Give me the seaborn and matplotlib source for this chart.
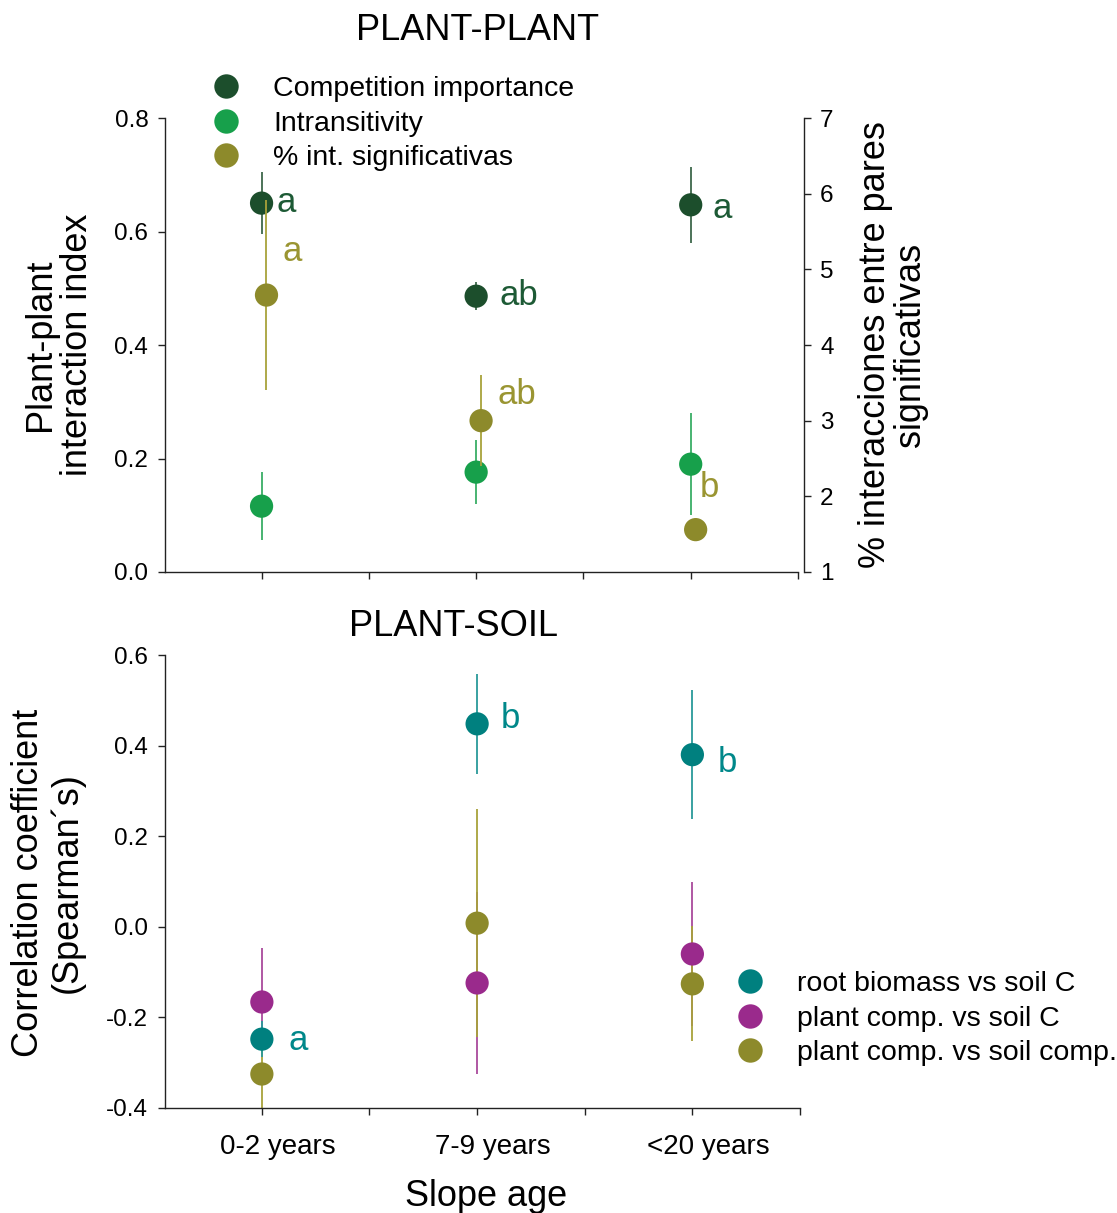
import numpy as np
import pandas as pd
import seaborn as sns
import matplotlib.pyplot as plt

sns.set_style("ticks")
plt.rcParams['font.family'] = ['Liberation Sans', 'DejaVu Sans']
plt.rcParams['text.color'] = 'black'

ages = ["0-2 years", "7-9 years", "<20 years"]
age_pos = [1, 2, 3]

# PLANT-PLANT (left axis: index, right axis: % significant interactions)
comp_imp = [0.650, 0.486, 0.647]
comp_imp_err = [0.055, 0.025, 0.067]
intrans = [0.116, 0.176, 0.190]
intrans_err = [0.060, 0.057, 0.090]
pct_sig = [4.66, 3.00, 1.56]
pct_sig_err = [1.25, 0.60, 0.0]
comp_letters = ["a", "ab", "a"]
pct_letters = ["a", "ab", "b"]

# PLANT-SOIL (Spearman correlations)
root_c = [-0.248, 0.448, 0.380]
root_c_err = [0.04, 0.11, 0.142]
comp_c = [-0.166, -0.124, -0.060]
comp_c_err = [0.12, 0.20, 0.16]
comp_comp = [-0.325, 0.008, -0.126]
comp_comp_err = [0.10, 0.252, 0.127]
root_letters = ["a", "b", "b"]

top_yticks = [0.0, 0.2, 0.4, 0.6, 0.8]
right_yticks = [1, 2, 3, 4, 5, 6, 7]
bot_yticks = [-0.4, -0.2, 0.0, 0.2, 0.4, 0.6]

labels_pp = ["Competition importance", "Intransitivity", "% int. significativas"]
labels_ps = ["root biomass vs soil C", "plant comp. vs soil C", "plant comp. vs soil comp."]
colors_pp = ["#1c4e2c", "#17a04b", "#8d8a2b"]
colors_ps = ["#00807f", "#9a2a8c", "#8d8a2b"]

W, H = 1117, 1213
fig = plt.figure(figsize=(W / 100, H / 100), dpi=100)
ax = fig.add_axes([165 / W, 1 - 572 / H, (798 - 165) / W, (572 - 118) / H])
ax2 = ax.twinx()
axb = fig.add_axes([165 / W, 1 - 1108 / H, (800 - 165) / W, (1108 - 655) / H])

dodge = 0.023
lbl_shift = 0.075
ms = 280
tick_fs = 17.5
lab_fs = 26
leg_fs = 20.5
let_fs = 25

# ---- top panel ----
top_df = pd.DataFrame({
    "age": age_pos * 2,
    "value": comp_imp + intrans,
    "series": [labels_pp[0]] * 3 + [labels_pp[1]] * 3,
})
right_df = pd.DataFrame({
    "age": [p + dodge for p in age_pos],
    "value": pct_sig,
    "series": [labels_pp[2]] * 3,
})

ax.errorbar(age_pos, comp_imp, yerr=comp_imp_err, fmt="none", ecolor=colors_pp[0],
            elinewidth=1.3, alpha=0.85, zorder=1)
ax.errorbar(age_pos, intrans, yerr=intrans_err, fmt="none", ecolor=colors_pp[1],
            elinewidth=1.3, alpha=0.85, zorder=1)
sns.scatterplot(data=top_df, x="age", y="value", hue="series",
                palette=dict(zip(labels_pp[:2], colors_pp[:2])),
                s=ms, linewidth=0, alpha=1, ax=ax, zorder=2)
ax2.errorbar(right_df["age"], pct_sig, yerr=pct_sig_err, fmt="none", ecolor="#a8a23a",
             elinewidth=1.3, zorder=1)
sns.scatterplot(data=right_df, x="age", y="value", hue="series",
                palette={labels_pp[2]: colors_pp[2]},
                s=ms, linewidth=0, alpha=1, ax=ax2, zorder=2)

h1 = ax.get_legend().legend_handles
h2 = ax2.get_legend().legend_handles
ax.get_legend().remove()
ax2.get_legend().remove()

offs_comp = [(15, -9), (23, -9), (22, -13)]
offs_pct = [(16, 34), (16, 17), (4, 33)]
for i in range(3):
    ax.annotate(comp_letters[i], (age_pos[i], comp_imp[i]), xytext=offs_comp[i],
                textcoords="offset pixels", ha="left", va="baseline",
                fontsize=let_fs, color="#1d5a35")
    ax2.annotate(pct_letters[i], (age_pos[i] + dodge, pct_sig[i]), xytext=offs_pct[i],
                 textcoords="offset pixels", ha="left", va="baseline",
                 fontsize=let_fs, color="#9a9532")

ax.set_xlim(0.55, 3.5)
ax.set_ylim(0, 0.8)
ax2.set_ylim(1, 7)
ax.set_xticks([1, 1.5, 2, 2.5, 3, 3.5], labels=[""] * 6)
ax.set_yticks(top_yticks, labels=[f"{v:.1f}" for v in top_yticks])
ax2.set_yticks(right_yticks, labels=[str(v) for v in right_yticks])
ax.set_xlabel("")
ax.set_ylabel("")
ax2.set_ylabel("")
sns.despine(ax=ax)
sns.despine(ax=ax2, left=True, bottom=True, right=False)
ax2.spines["right"].set_position(("outward", 4))

ax2.legend(list(h1) + list(h2), labels_pp, loc="upper left",
           bbox_to_anchor=(212 / W, 1 - 76 / H), bbox_transform=fig.transFigure,
           frameon=False, fontsize=leg_fs, handlelength=1.0, handletextpad=1.15,
           labelspacing=0.3, borderpad=0, borderaxespad=0, markerscale=1.05)

# ---- bottom panel ----
bot_df = pd.DataFrame({
    "age": age_pos * 3,
    "value": root_c + comp_c + comp_comp,
    "series": [labels_ps[0]] * 3 + [labels_ps[1]] * 3 + [labels_ps[2]] * 3,
})
for vals, errs, c in [(comp_c, comp_c_err, "#a94a9c"),
                      (comp_comp, comp_comp_err, "#a8a23a"),
                      (root_c, root_c_err, "#2a9a9a")]:
    axb.errorbar(age_pos, vals, yerr=errs, fmt="none", ecolor=c, elinewidth=1.3, zorder=1)
sns.scatterplot(data=bot_df, x="age", y="value", hue="series",
                palette=dict(zip(labels_ps, colors_ps)),
                s=ms, linewidth=0, alpha=1, ax=axb, zorder=2)
hb = axb.get_legend().legend_handles
axb.get_legend().remove()

offs_root = [(27, -11), (24, -4), (25, -17)]
for i in range(3):
    axb.annotate(root_letters[i], (age_pos[i], root_c[i]), xytext=offs_root[i],
                 textcoords="offset pixels", ha="left", va="baseline",
                 fontsize=let_fs, color="#00888a")

axb.set_xlim(0.55, 3.5)
axb.set_ylim(-0.4, 0.6)
axb.set_xticks([1, 1.5, 2, 2.5, 3, 3.5], labels=[""] * 6)
# category names sit slightly right of their tick, as in the original
axb.set_xticks([p + lbl_shift for p in age_pos], labels=ages, minor=True)
axb.set_yticks(bot_yticks, labels=[f"{v:.1f}" for v in bot_yticks])
axb.set_xlabel("")
axb.set_ylabel("")
sns.despine(ax=axb)

axb.legend(hb, labels_ps, loc="upper left",
           bbox_to_anchor=(736 / W, 1 - 971 / H), bbox_transform=fig.transFigure,
           frameon=False, fontsize=leg_fs, handlelength=1.0, handletextpad=1.15,
           labelspacing=0.3, borderpad=0, borderaxespad=0, markerscale=1.05)

for a in (ax, ax2, axb):
    a.tick_params(which="both", direction="out", length=5, width=1, colors="#222222",
                  labelcolor="black", labelsize=tick_fs, pad=7)
    for sp in a.spines.values():
        sp.set_linewidth(1)
        sp.set_color("#222222")
axb.tick_params(axis="x", which="minor", length=0, labelsize=20, pad=19)

# titles and axis labels
fig.text(478 / W, 1 - 31 / H, "PLANT-PLANT", ha="center", va="center", fontsize=lab_fs)
fig.text(453 / W, 1 - 626 / H, "PLANT-SOIL", ha="center", va="center", fontsize=lab_fs)
fig.text(59 / W, 1 - 345 / H, "Plant-plant\ninteraction index", rotation=90,
         ha="center", va="center", fontsize=lab_fs, linespacing=1.05, multialignment="center")
fig.text(893 / W, 1 - 345 / H, "% interacciones entre pares\nsignificativas", rotation=90,
         ha="center", va="center", fontsize=lab_fs, linespacing=1.0, multialignment="center")
fig.text(48 / W, 1 - 883 / H, "Correlation coefficient\n(Spearman´s)", rotation=90,
         ha="center", va="center", fontsize=lab_fs, linespacing=1.1, multialignment="center")
fig.text(486 / W, 1 - 1196 / H, "Slope age", ha="center", va="center", fontsize=lab_fs)

fig.savefig("out.png", dpi=100)
